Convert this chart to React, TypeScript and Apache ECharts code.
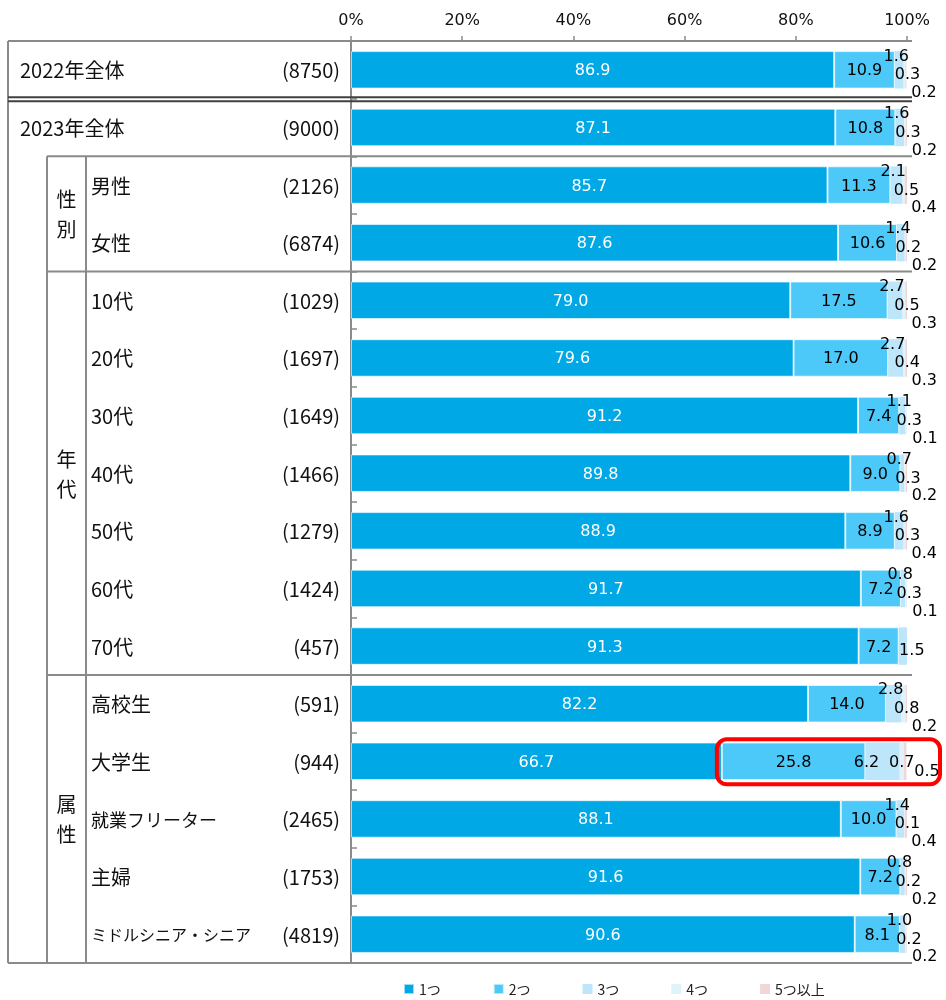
import React, { useEffect, useRef } from 'react';
import * as echarts from 'echarts';

const categories = ['2022年全体', '2023年全体', '男性', '女性', '10代', '20代', '30代', '40代', '50代', '60代', '70代', '高校生', '大学生', '就業フリーター', '主婦', 'ミドルシニア・シニア'];
const sampleSizes = [8750, 9000, 2126, 6874, 1029, 1697, 1649, 1466, 1279, 1424, 457, 591, 944, 2465, 1753, 4819];
const seriesNames = ['1つ', '2つ', '3つ', '4つ', '5つ以上'];
const one = [86.9, 87.1, 85.7, 87.6, 79.0, 79.6, 91.2, 89.8, 88.9, 91.7, 91.3, 82.2, 66.7, 88.1, 91.6, 90.6];
const two = [10.9, 10.8, 11.3, 10.6, 17.5, 17.0, 7.4, 9.0, 8.9, 7.2, 7.2, 14.0, 25.8, 10.0, 7.2, 8.1];
const three = [1.6, 1.6, 2.1, 1.4, 2.7, 2.7, 1.1, 0.7, 1.6, 0.8, 1.5, 2.8, 6.2, 1.4, 0.8, 1.0];
const four = [0.3, 0.3, 0.5, 0.2, 0.5, 0.4, 0.3, 0.3, 0.3, 0.3, 0, 0.8, 0.7, 0.1, 0.2, 0.2];
const five = [0.2, 0.2, 0.4, 0.2, 0.3, 0.3, 0.1, 0.2, 0.4, 0.1, 0, 0.2, 0.5, 0.4, 0.2, 0.2];
const xTickStep = 20;
const groups = [
  { label: '性\n別', from: 2, to: 3 },
  { label: '年\n代', from: 4, to: 10 },
  { label: '属\n性', from: 11, to: 15 },
];
const highlightRow = 12;
const colors = ['#00A8E6', '#4CC9F9', '#BEE6FA', '#E0F3FA', '#F0D6D6'];

const CJK = '"Noto Sans CJK JP", sans-serif';
const NUM = '"DejaVu Sans", "Noto Sans CJK JP", sans-serif';
const GRAY = '#8a8a8a';
const fmt = (v: number) => v.toFixed(1);

function buildData(vals: number[], kind: number) {
  return vals.map((v, i) => {
    if (v === 0) return { value: v, label: { show: false } };
    if (kind === 2) {
      if (i === highlightRow) return { value: v, label: { position: 'inside', offset: [-16, 0] } };
      if (four[i] === 0 && five[i] === 0) return { value: v, label: { position: ['50%', '50%'], offset: [9, 3] } };
      return { value: v, label: { position: ['50%', 5], offset: [-3, -1] } };
    }
    if (kind === 3) {
      if (i === highlightRow) return { value: v, label: { position: ['50%', '50%'], offset: [0, 0] } };
      return { value: v, label: { position: ['50%', '50%'], offset: [3, 4] } };
    }
    if (kind === 4) {
      if (i === highlightRow) return { value: v, label: { position: ['50%', '100%'], offset: [22, -10] } };
      return { value: v, label: { position: ['50%', '100%'], offset: [18, 3] } };
    }
    return { value: v };
  });
}

function rowStyle(idx: number, val: string) {
  if (idx < 2) return 'top';
  const kana = (val.match(/[\u30A0-\u30FF]/g) || []).length;
  if (kana >= 8) return 'subS';
  if (kana >= 4) return 'subM';
  return 'sub';
}

export default function App() {
  const ref = useRef<HTMLDivElement>(null);
  useEffect(() => {
    if (!ref.current) return;
    const chart = echarts.init(ref.current, undefined, { renderer: 'svg' });
    const allVals = [one, two, three, four, five];
    const series = allVals.map((vals, k) => ({
      name: seriesNames[k],
      type: 'bar',
      stack: 'total',
      barWidth: '65%',
      itemStyle: { color: colors[k], borderColor: k < 2 ? 'rgba(255,255,255,0.6)' : undefined, borderWidth: k < 2 ? 1 : 0 },
      label: {
        show: true,
        position: 'inside',
        align: 'center',
        verticalAlign: 'middle',
        color: k === 0 ? '#ffffff' : '#000000',
        fontSize: 16,
        fontFamily: NUM,
        formatter: (p: any) => fmt(typeof p.value === 'number' ? p.value : p.data.value),
      },
      emphasis: { disabled: true },
      data: buildData(vals, k),
    }));

    const labelBase = { align: 'left', fontSize: 20, color: '#111', fontFamily: CJK };
    chart.setOption({
      animation: false,
      legend: {
        data: seriesNames,
        left: 398,
        top: 977,
        icon: 'rect',
        itemWidth: 10,
        itemHeight: 10,
        itemGap: 52,
        textStyle: { fontSize: 14, color: '#222', fontFamily: CJK },
      },
      grid: { left: 351, top: 41, width: 556, height: 922, containLabel: false },
      xAxis: {
        type: 'value',
        position: 'top',
        min: 0,
        max: 100,
        interval: xTickStep,
        axisLine: { show: true, lineStyle: { color: GRAY, width: 2 } },
        axisTick: { show: true, length: 5, lineStyle: { color: GRAY, width: 1.5 } },
        splitLine: { show: false },
        axisLabel: { formatter: '{value}%', fontSize: 16, color: '#111', fontFamily: NUM, margin: 14 },
      },
      yAxis: {
        type: 'category',
        inverse: true,
        data: categories,
        axisLine: { show: true, lineStyle: { color: GRAY, width: 2 } },
        axisTick: { show: true, inside: true, length: 6, lineStyle: { color: GRAY, width: 1.5 } },
        axisLabel: {
          margin: 11,
          formatter: (val: string, idx: number) => `{${rowStyle(idx, val)}|${val}}{n|(${sampleSizes[idx]})}`,
          rich: {
            top: { ...labelBase, width: 250 },
            sub: { ...labelBase, width: 179 },
            subM: { ...labelBase, width: 179, fontSize: 18 },
            subS: { ...labelBase, width: 179, fontSize: 16 },
            n: { ...labelBase, width: 70, align: 'right' },
          },
        },
      },
      series,
    });

    const yc = categories.map((_, i) => chart.convertToPixel({ yAxisIndex: 0 }, i) as number);
    const band = yc[1] - yc[0];
    const top = yc[0] - band / 2;
    const bottom = yc[yc.length - 1] + band / 2;
    const after = (i: number) => yc[i] + band / 2;
    const x100 = chart.convertToPixel({ xAxisIndex: 0 }, 100) as number;
    const xRight = x100 + 5;
    const xOuter = 8;
    const xG1 = 47;
    const xG2 = 86;
    const line = (x1: number, y1: number, x2: number, y2: number, stroke = GRAY, w = 2) => ({
      type: 'line',
      z: 50,
      shape: { x1, y1, x2, y2 },
      style: { stroke, lineWidth: w },
    });
    const g: any[] = [];
    g.push(line(xOuter, top, xRight, top));
    g.push(line(xOuter, top, xOuter, bottom));
    g.push(line(xOuter, bottom, xRight, bottom));
    const dbl = after(0);
    g.push(line(xOuter, dbl - 1.5, xRight, dbl - 1.5, '#404040', 2));
    g.push(line(xOuter, dbl + 2.5, xRight, dbl + 2.5, '#404040', 2));
    const groupTop = after(1);
    g.push(line(xG1, groupTop, xG1, bottom));
    g.push(line(xG2, groupTop, xG2, bottom));
    groups.forEach((gr) => {
      const y0 = yc[gr.from] - band / 2;
      const y1 = yc[gr.to] + band / 2;
      g.push(line(xG1, y0, xRight, y0));
      g.push({
        type: 'text',
        z: 50,
        x: (xG1 + xG2) / 2,
        y: (y0 + y1) / 2,
        style: {
          text: gr.label,
          fontSize: 20,
          fontFamily: CJK,
          fill: '#111',
          align: 'center',
          verticalAlign: 'middle',
          lineHeight: 30,
        },
      });
    });
    const xh = chart.convertToPixel({ xAxisIndex: 0 }, one[highlightRow]) as number;
    const yh = yc[highlightRow];
    g.push({
      type: 'rect',
      z: 60,
      shape: { x: xh - 5, y: yh - 22, width: x100 + 33 - (xh - 5), height: 45, r: 10 },
      style: { fill: 'none', stroke: '#ff0000', lineWidth: 4 },
    });
    chart.setOption({ graphic: g });

    return () => chart.dispose();
  }, []);
  return <div ref={ref} style={{ position: 'fixed', left: 0, top: 0, width: 946, height: 1000 }} />;
}
